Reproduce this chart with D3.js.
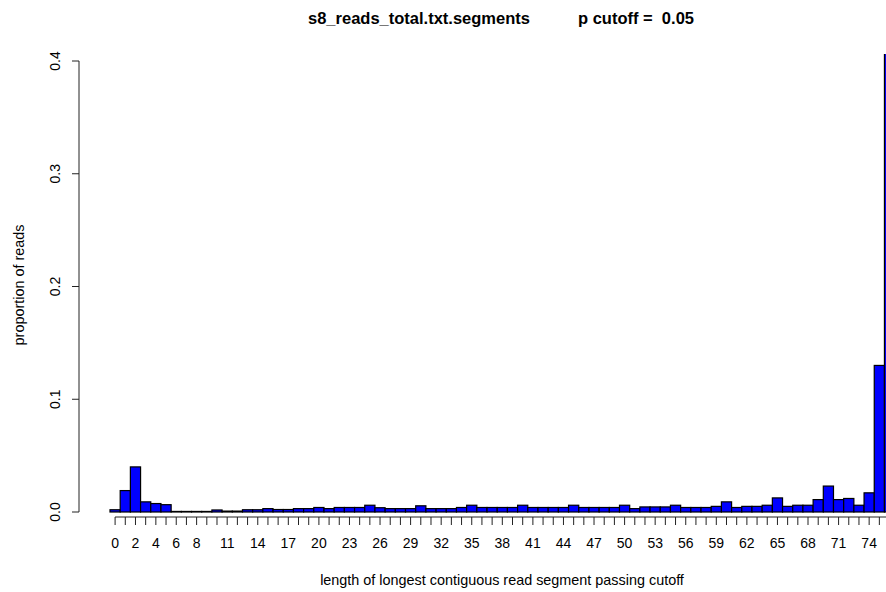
<!DOCTYPE html>
<html lang="en">
<head>
    <meta charset="UTF-8">
    <title>s8_reads_total.txt.segments</title>
    <script src="https://cdn.jsdelivr.net/npm/d3@7/dist/d3.min.js"></script>
    <style>
        * { margin: 0; }
        body { background: #fff; }
        svg { display: block; font-family: "Liberation Sans", Arial, sans-serif; }
    </style>
</head>
<body>
    <svg id="chart" width="886" height="592"></svg>
    <script>
        // segment length 0..76 (last bar is cut off at the right edge)
        var lengths = d3.range(0, 77);
        var proportions = [
            0.002, 0.019, 0.040, 0.009, 0.0075, 0.0065, 0.0005, 0.0005, 0.0005, 0.0005,
            0.0018, 0.0008, 0.0008, 0.002, 0.002, 0.003, 0.0022, 0.0022, 0.003, 0.003,
            0.004, 0.003, 0.004, 0.004, 0.004, 0.006, 0.0038, 0.003, 0.003, 0.003,
            0.0055, 0.003, 0.003, 0.003, 0.004, 0.006, 0.004, 0.004, 0.004, 0.004,
            0.006, 0.004, 0.004, 0.004, 0.004, 0.006, 0.004, 0.004, 0.004, 0.004,
            0.006, 0.003, 0.0045, 0.0045, 0.0045, 0.006, 0.004, 0.004, 0.004, 0.005,
            0.009, 0.004, 0.005, 0.005, 0.006, 0.0125, 0.005, 0.006, 0.006, 0.011,
            0.023, 0.011, 0.012, 0.006, 0.017, 0.130, 0.5
        ];
        var xLabels = [0, 2, 4, 6, 8, 11, 14, 17, 20, 23, 26, 29, 32, 35, 38, 41, 44, 47, 50, 53, 56, 59, 62, 65, 68, 71, 74];
        var yTicks = [0, 0.1, 0.2, 0.3, 0.4];

        var svg = d3.select("#chart");

        var barW = 10.19;
        var x = d3.scaleBand()
            .domain(lengths)
            .range([110, 110 + barW * lengths.length])
            .paddingInner(0);

        var y = d3.scaleLinear()
            .domain([0, 0.4])
            .range([512, 61]);

        // plot region clip (bars over the top are cut)
        svg.append("clipPath").attr("id", "plotclip")
            .append("rect")
            .attr("x", 0).attr("y", y(0.4) - 7)
            .attr("width", 886).attr("height", y(0) - y(0.4) + 20);

        // bars
        svg.append("g")
            .attr("clip-path", "url(#plotclip)")
            .selectAll("rect")
            .data(proportions)
            .enter()
            .append("rect")
            .attr("x", function (d, i) { return x(i); })
            .attr("y", function (d) { return y(d); })
            .attr("width", x.bandwidth())
            .attr("height", function (d) { return y(0) - y(d); })
            .attr("fill", "#0000ff")
            .attr("stroke", "#000")
            .attr("stroke-width", 1.2);

        // y axis (R style: rotated labels)
        var yAxis = svg.append("g").attr("transform", "translate(79,0)");
        yAxis.append("line")
            .attr("x1", 0).attr("x2", 0)
            .attr("y1", y(0)).attr("y2", y(0.4))
            .attr("stroke", "#222");
        yAxis.selectAll("line.tick")
            .data(yTicks)
            .enter().append("line")
            .attr("class", "tick")
            .attr("x1", -7).attr("x2", 0)
            .attr("y1", function (d) { return y(d); })
            .attr("y2", function (d) { return y(d); })
            .attr("stroke", "#222");
        yAxis.selectAll("text")
            .data(yTicks)
            .enter().append("text")
            .attr("transform", function (d) { return "translate(-19," + y(d) + ") rotate(-90)"; })
            .attr("text-anchor", "middle")
            .attr("font-size", 14)
            .text(function (d) { return d3.format(".1f")(d); });

        // x axis: a tick per bar, labels where they fit
        var xAxisY = 517;
        var xAxis = svg.append("g");
        xAxis.append("line")
            .attr("x1", x(0) + x.bandwidth() / 2)
            .attr("x2", x(lengths[lengths.length - 1]) + x.bandwidth() / 2)
            .attr("y1", xAxisY).attr("y2", xAxisY)
            .attr("stroke", "#222");
        xAxis.selectAll("line.tick")
            .data(lengths)
            .enter().append("line")
            .attr("class", "tick")
            .attr("x1", function (d) { return x(d) + x.bandwidth() / 2; })
            .attr("x2", function (d) { return x(d) + x.bandwidth() / 2; })
            .attr("y1", xAxisY).attr("y2", xAxisY + 8)
            .attr("stroke", "#222");
        xAxis.selectAll("text")
            .data(xLabels)
            .enter().append("text")
            .attr("x", function (d) { return x(d) + x.bandwidth() / 2; })
            .attr("y", 548)
            .attr("text-anchor", "middle")
            .attr("font-size", 14)
            .text(function (d) { return d; });

        // titles
        svg.append("text")
            .attr("x", 308).attr("y", 24)
            .attr("font-size", 16.5).attr("font-weight", "bold")
            .text("s8_reads_total.txt.segments");
        svg.append("text")
            .attr("x", 578).attr("y", 24)
            .attr("font-size", 16.5).attr("font-weight", "bold")
            .attr("xml:space", "preserve")
            .text("p cutoff =  0.05");

        svg.append("text")
            .attr("x", 502).attr("y", 585)
            .attr("text-anchor", "middle")
            .attr("font-size", 14.4)
            .text("length of longest contiguous read segment passing cutoff");

        svg.append("text")
            .attr("transform", "translate(24,285) rotate(-90)")
            .attr("text-anchor", "middle")
            .attr("font-size", 14.4)
            .text("proportion of reads");
    </script>
</body>
</html>
